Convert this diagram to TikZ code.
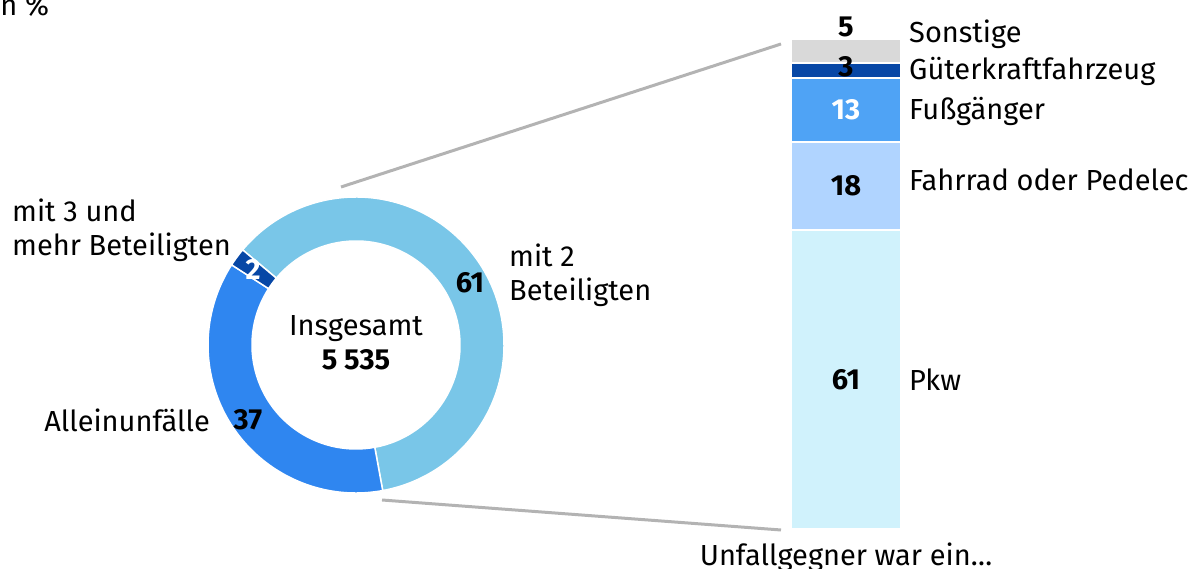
\documentclass[tikz,border=0pt]{standalone}
\usepackage{fontspec}
\setmainfont{Fira Sans}
\usepackage{xcolor}
\usetikzlibrary{positioning}
\definecolor{ringlight}{HTML}{79C6E8}
\definecolor{ringmid}{HTML}{2F86F0}
\definecolor{ringdark}{HTML}{0747A6}
\definecolor{bargrey}{HTML}{D9D9D9}
\definecolor{barblue}{HTML}{4FA3F5}
\definecolor{barpale}{HTML}{B0D4FF}
\definecolor{barice}{HTML}{D0F2FC}
\definecolor{linkgrey}{HTML}{B3B3B3}

\begin{document}
\begin{tikzpicture}[
    x=1pt, y=1pt,
    every node/.style={font=\fontsize{29}{34}\selectfont, inner sep=0pt},
    seg/.style={minimum width=110pt, draw=white, line width=2pt, anchor=north, outer sep=0pt},
    num/.style={font=\fontsize{29}{34}\selectfont\bfseries},
    lbl/.style={anchor=west, align=left},
    link/.style={draw=linkgrey, line width=3pt},
    slice/.style={draw=white, line width=1.5pt}
  ]
    \useasboundingbox (0,0) rectangle (1193,569);
    \coordinate (ctr) at (356,224);

    % ring
    \filldraw[slice, fill=ringlight] ([shift={(140:148)}]ctr) arc[start angle=140, end angle=-79.6, radius=148]
      -- ([shift={(-79.6:104)}]ctr) arc[start angle=-79.6, end angle=140, radius=104] -- cycle;
    \filldraw[slice, fill=ringmid] ([shift={(-79.6:148)}]ctr) arc[start angle=280.4, end angle=147.2, radius=148]
      -- ([shift={(147.2:104)}]ctr) arc[start angle=147.2, end angle=280.4, radius=104] -- cycle;
    \filldraw[slice, fill=ringdark] ([shift={(147.2:148)}]ctr) arc[start angle=147.2, end angle=140, radius=148]
      -- ([shift={(140:104)}]ctr) arc[start angle=140, end angle=147.2, radius=104] -- cycle;

    \node[align=center] (total) at (356,226) {Insgesamt\\\textbf{5 535}};
    \node[num] (n61) at (470,286) {61};
    \node[num] (n37) at (248,149) {37};
    \node[num, text=white] (n2) at (253,299) {2};
    \node[lbl] (zwei) at (509,294) {mit 2\\Beteiligten};
    \node[lbl] (drei) at (12,339) {mit 3 und\\mehr Beteiligten};
    \node[anchor=east] (allein) at (210,149) {Alleinunfälle};

    % bar
    \node[seg, fill=bargrey, minimum height=24.5pt] (sonst) at (846,530) {};
    \node[seg, fill=ringdark, minimum height=14.7pt, below=0pt of sonst] (gkfz) {};
    \node[seg, fill=barblue, minimum height=63.7pt, below=0pt of gkfz] (fuss) {};
    \node[seg, fill=barpale, minimum height=88.2pt, below=0pt of fuss] (rad) {};
    \node[seg, fill=barice, minimum height=298.9pt, below=0pt of rad] (pkw) {};
    \node[num] (n5) at (846,542) {5};
    \node[num] (n3) at ([yshift=4pt]gkfz.center) {3};
    \node[num, text=white] (n13) at (fuss.center) {13};
    \node[num] (n18) at (rad.center) {18};
    \node[num] (n61b) at (pkw.center) {61};

    \node[lbl] (l-sonst) at (909,535) {Sonstige};
    \node[lbl] (l-gkfz) at (909,498) {Güterkraftfahrzeug};
    \node[lbl] (l-fuss) at (909,458) {Fußgänger};
    \node[lbl] (l-rad) at (909,389) {Fahrrad oder Pedelec};
    \node[lbl] (l-pkw) at (909,189) {Pkw};

    \node (gegner) at (846,12) {Unfallgegner war ein\dots};
    \node[anchor=west] (unit) at (-8,564) {in \%};

    % links
    \coordinate (ringtop) at (341,382);
    \coordinate (ringbot) at (382,69);
    \coordinate (bartop) at (781,525);
    \coordinate (barbot) at (781,39);
    \draw[link] (ringtop) -- (bartop);
    \draw[link] (ringbot) -- (barbot);
\end{tikzpicture}
\end{document}
